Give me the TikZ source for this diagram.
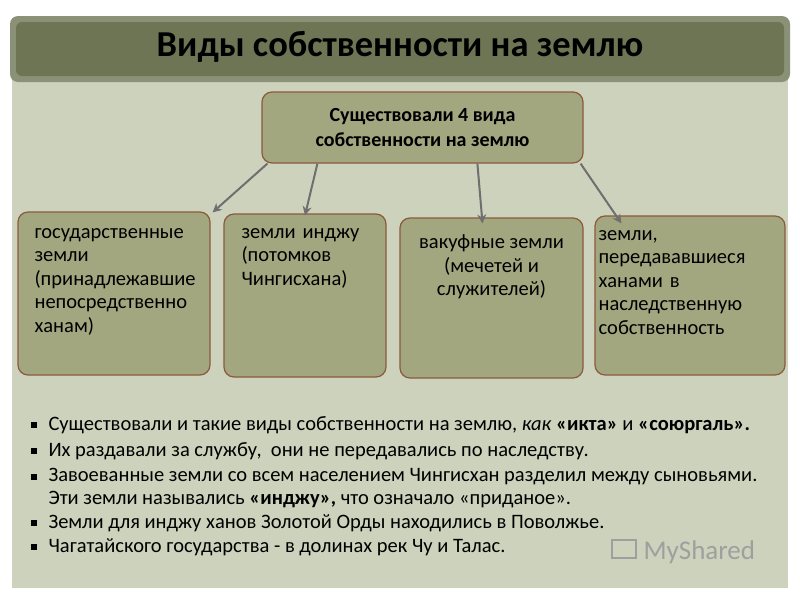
\documentclass[tikz,border=0pt]{standalone}
\usepackage{fontspec}
\setmainfont{Carlito}
\usetikzlibrary{arrows.meta}
\definecolor{panel}{HTML}{CDD2BC}
\definecolor{bar}{HTML}{6E7555}
\definecolor{boxf}{HTML}{A3A77F}
\definecolor{boxd}{HTML}{8B5A3C}
\definecolor{arr}{HTML}{6F6F6F}
\tikzset{
  box/.style={draw=boxd,line width=1.2pt,fill=boxf,rounded corners=10pt,inner sep=0pt},
  boxtext/.style={font=\fontsize{20.5}{23.5}\selectfont,align=left,text width=185pt,anchor=north west},
  conn/.style={draw=arr,line width=2pt,-{Stealth[length=9pt,width=9pt]}},
  bul/.style={font=\fontsize{20.5}{24}\selectfont,anchor=west}
}
\begin{document}
\begin{tikzpicture}[x=1pt,y=-1pt]
\useasboundingbox (0,0) rectangle (800,600);
\fill[white] (0,0) rectangle (800,600);
\fill[panel] (12,22) rectangle (788,588);
\fill[bar!80!white,rounded corners=8pt] (10,16) rectangle (790,82);
\fill[bar,rounded corners=6pt] (16,22) rectangle (784,76);
\node[font=\bfseries\fontsize{36.5}{40}\selectfont] (title) at (400,47) {Виды собственности на землю};
\node[box,minimum width=321pt,minimum height=71pt] (top) at (422.5,127.5) {};
\node[font=\bfseries\fontsize{20}{25}\selectfont,align=center] at (top) {Существовали 4 вида\\собственности на землю};
\node[box,minimum width=192pt,minimum height=163pt] (b1) at (114,293.5) {};
\node[box,minimum width=162pt,minimum height=163pt] (b2) at (305,295.5) {};
\node[box,minimum width=183pt,minimum height=160pt] (b3) at (491.5,298) {};
\node[box,minimum width=190pt,minimum height=159pt] (b4) at (690,295.5) {};
\node[boxtext] at (31,225) {государственные\\земли\\(принадлежавшие\\непосредственно\\ханам)};
\node[boxtext] at (238,225) {земли инджу\\(потомков\\Чингисхана)};
\node[font=\fontsize{20.5}{23.5}\selectfont,align=center] at (491.5,267) {вакуфные земли\\(мечетей и\\служителей)};
\node[boxtext] at (595,227) {земли,\\передававшиеся\\ханами в\\наследственную\\собственность};
\draw[conn] (top.south west)++(6,0) -- ([xshift=2pt,yshift=-1pt]b1.north east);
\draw[conn] (top.south west)++(56,0) -- ([yshift=-2pt]b2.north);
\draw[conn] (top.south west)++(216,0) -- ([xshift=-9pt,yshift=-6pt]b3.north);
\draw[conn] (top.south east)++(-3,0) -- ([xshift=27pt,yshift=-8pt]b4.north west);
\foreach \y in {425,451,477,523,547} \fill (31,\y-3) rectangle (37,\y+3);
\node[bul] (l1) at (45,425) {Существовали и такие виды собственности на землю, \textit{как} \textbf{«икта»} и \textbf{«союргаль».}};
\node[bul] (l2) at (45,451) {Их раздавали за службу,\ \ они не передавались по наследству.};
\node[bul] (l3) at (45,477) {Завоеванные земли со всем населением Чингисхан разделил между сыновьями.};
\node[bul] (l4) at (45,500) {Эти земли назывались \textbf{«инджу»,} что означало «приданое».};
\node[bul] (l5) at (45,523) {Земли для инджу ханов Золотой Орды находились в Поволжье.};
\node[bul] (l6) at (45,547) {Чагатайского государства - в долинах рек Чу и Талас.};
\node[font=\fontsize{27}{30}\selectfont,text=gray!75,anchor=west] (ms) at (640,552) {MyShared};
\draw[gray!75,line width=1.5pt] (612,540) rectangle (636,558);
\end{tikzpicture}
\end{document}
